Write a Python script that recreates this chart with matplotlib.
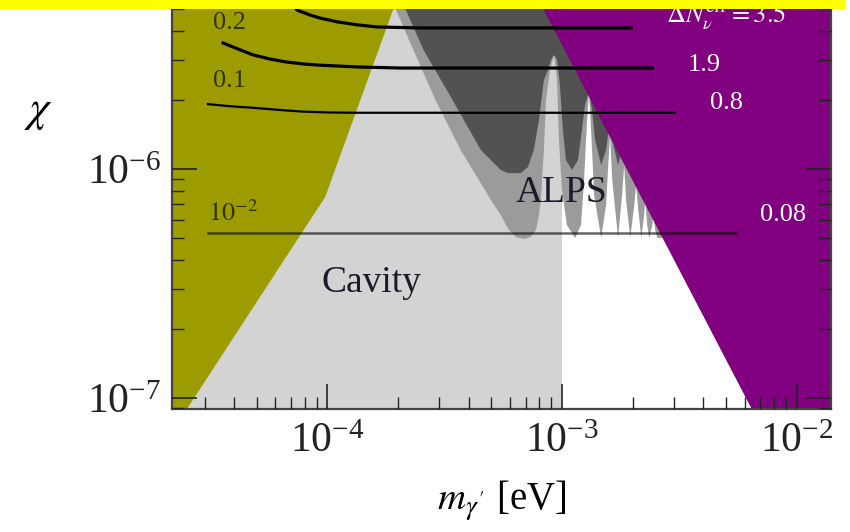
import numpy as np
import matplotlib
matplotlib.use("Agg")
import matplotlib.pyplot as plt
from matplotlib.patches import Rectangle

plt.rcParams['font.family'] = ['Liberation Serif', 'DejaVu Serif']
plt.rcParams['mathtext.fontset'] = 'stix'

# ---------------- data ----------------
xlim = (2.18e-5, 1.4e-2)
ylim = (8.95e-8, 5.47e-6)

# Olive exclusion region (left)
olive_m = [1e-5, 2.35e-5, 9.8e-5, 2.04e-4, 1e-5]
olive_chi = [8e-8, 8e-8, 7.55e-7, 6e-6, 6e-6]

# Cavity region (light grey), bounded by m = 1e-3 eV
cavity_m = [1e-5, 1e-3, 1e-3, 1e-5]
cavity_chi = [8e-8, 8e-8, 6e-6, 6e-6]

# Purple region (right)
purple_m = [5.85e-4, 6.81e-3, 2e-2, 2e-2]
purple_chi = [1e-5, 8e-8, 8e-8, 1e-5]

# ALPS outer sensitivity curve (medium grey), log10 values
alps_log_m = [-3.739, -3.709, -3.633, -3.539, -3.432, -3.303, -3.261, -3.227,
              -3.197, -3.162, -3.133, -3.111, -3.098, -3.090, -3.077, -3.068,
              -3.051, -3.034, -3.021, -3.013,
              -3.000, -2.979, -2.944, -2.919, -2.906, -2.893, -2.885, -2.876,
              -2.863, -2.833, -2.812, -2.803, -2.795, -2.786, -2.761, -2.744,
              -2.735, -2.727, -2.709, -2.692, -2.684, -2.675, -2.662, -2.650,
              -2.645, -2.637, -2.628, -2.615, -2.611, -2.603, -2.594, -2.406,
              -1.765]
alps_log_chi = [-5.210, -5.301, -5.480, -5.699, -5.917, -6.135, -6.201, -6.266,
                -6.297, -6.306, -6.297, -6.266, -6.201, -6.135, -5.917, -5.699,
                -5.568, -5.502, -5.611, -5.873,
                -6.092, -6.245, -6.301, -6.245, -6.048, -5.786, -5.668, -5.830,
                -6.114, -6.301, -6.157, -5.983, -5.852, -6.048, -6.301, -6.114,
                -5.983, -6.135, -6.301, -6.157, -6.070, -6.179, -6.301, -6.201,
                -6.135, -6.245, -6.301, -6.245, -6.201, -6.266, -6.301, -6.301,
                -6.301]

# ALPS inner curve (dark grey), log10 values
alps2_log_m = [-3.697, -3.667, -3.590, -3.466, -3.346, -3.303, -3.261, -3.231,
               -3.175, -3.145, -3.120, -3.098, -3.077, -3.060, -3.047, -3.034,
               -3.021, -3.009,
               -2.996, -2.983, -2.957, -2.932, -2.915, -2.902, -2.885, -2.872,
               -2.859, -2.833, -2.812, -2.799, -2.795, -2.786, -2.761, -2.744,
               -2.735, -2.705, -2.662, -1.765]
alps2_log_chi = [-5.210, -5.301, -5.480, -5.699, -5.917, -5.961, -6.004, -6.018,
                 -6.018, -5.991, -5.917, -5.786, -5.611, -5.568, -5.524, -5.502,
                 -5.524, -5.633,
                 -5.830, -5.961, -6.004, -5.961, -5.830, -5.721, -5.664, -5.742,
                 -5.873, -5.983, -5.917, -5.808, -5.764, -5.873, -5.983, -5.917,
                 -5.873, -5.983, -6.004, -6.004]

# Delta N_eff contour lines
line1_m = [6.8e-5, 7.44e-5, 8.46e-5, 9.33e-5, 1.104e-4, 1.343e-4, 1.637e-4,
           2.49e-4, 1.97e-3]
line1_chi = [5.6e-6, 4.94e-6, 4.70e-6, 4.56e-6, 4.39e-6, 4.26e-6, 4.17e-6,
             4.13e-6, 4.13e-6]
line2_m = [3.6e-5, 4.17e-5, 4.83e-5, 5.71e-5, 6.74e-5, 8.05e-5, 9.33e-5,
           1.343e-4, 2.05e-4, 2.43e-3]
line2_chi = [3.55e-6, 3.34e-6, 3.15e-6, 3.02e-6, 2.93e-6, 2.87e-6, 2.84e-6,
             2.79e-6, 2.76e-6, 2.76e-6]
line3_m = [3.1e-5, 3.85e-5, 4.83e-5, 6.3e-5, 7.9e-5, 1.03e-4, 1.343e-4, 3.01e-3]
line3_chi = [1.92e-6, 1.88e-6, 1.85e-6, 1.81e-6, 1.78e-6, 1.765e-6, 1.76e-6,
             1.76e-6]
line4_m = [3.1e-5, 5.54e-3]
line4_chi = [5.26e-7, 5.26e-7]

left_labels = ['0.2', '0.1', r'$10^{-2}$']
right_labels = [r'$\Delta N_\nu^{\rm eff} = 3.5$', '1.9', '0.8', '0.08']

# ---------------- figure ----------------
W, H = 850, 532
fig = plt.figure(figsize=(W / 100, H / 100), dpi=100)
ax = fig.add_axes([172 / W, 1 - 409 / H, (831 - 172) / W, 409 / H])
ax.set_xscale('log')
ax.set_yscale('log')

ax.fill(cavity_m, cavity_chi, color='#d3d3d3', lw=0, zorder=1.0)

am = 10 ** np.array(alps_log_m)
ac = 10 ** np.array(alps_log_chi)
ax.fill(np.concatenate([am, [am[-1], am[0]]]),
        np.concatenate([ac, [1e-5, 1e-5]]), color='#9b9b9b', lw=0, zorder=1.1)
bm = 10 ** np.array(alps2_log_m)
bc = 10 ** np.array(alps2_log_chi)
ax.fill(np.concatenate([bm, [bm[-1], bm[0]]]),
        np.concatenate([bc, [1e-5, 1e-5]]), color='#525252', lw=0, zorder=1.2)

ax.fill(olive_m, olive_chi, color='#9c9c00', lw=0, zorder=1.3)
ax.fill(purple_m, purple_chi, color='#800080', lw=0, zorder=1.4)

ax.plot(line1_m, line1_chi, color='black', lw=2.3, zorder=2, solid_joinstyle='round')
ax.plot(line2_m, line2_chi, color='black', lw=2.3, zorder=2, solid_joinstyle='round')
ax.plot(line3_m, line3_chi, color='black', lw=1.6, zorder=2, solid_joinstyle='round')
ax.plot(line4_m, line4_chi, color='black', lw=1.8, alpha=0.6, zorder=2)

tc = '#333300'
ax.text(3.26e-5, 4.34e-6, left_labels[0], color=tc, fontsize=19, ha='left', va='center')
ax.text(3.26e-5, 2.42e-6, left_labels[1], color=tc, fontsize=19, ha='left', va='center')
ax.text(3.1e-5, 6.43e-7, left_labels[2], color=tc, fontsize=19, ha='left', va='center')

ax.text(5.02e-3, 4.34e-6, right_labels[0], color='white', fontsize=19, ha='center', va='baseline')
ax.text(4.05e-3, 2.85e-6, right_labels[1], color='white', fontsize=19, ha='center', va='center')
ax.text(5.02e-3, 1.94e-6, right_labels[2], color='white', fontsize=19, ha='center', va='center')
ax.text(8.71e-3, 6.30e-7, right_labels[3], color='white', fontsize=19, ha='center', va='center')

ax.text(1.54e-4, 3.18e-7, 'Cavity', color='#1a1a2a', fontsize=27, ha='center', va='center')
ax.text(1.0e-3, 7.86e-7, 'ALPS', color='#1a1a2a', fontsize=27, ha='center', va='center')

ax.set_xlim(*xlim)
ax.set_ylim(*ylim)

ax.set_axisbelow(False)
ax.tick_params(which='both', direction='in', top=False, right=True,
               labelsize=30, colors='#222222')
ax.tick_params(which='major', length=18, width=1.2, pad=8)
ax.tick_params(which='minor', length=8.5, width=1.0)
ax.tick_params(axis='x', which='major', pad=10)
for s in ax.spines.values():
    s.set_linewidth(1.6)
    s.set_color('#444444')
ax.spines['top'].set_visible(False)

ax.set_xlabel(r"$m_{\gamma'}$ [eV]", fontsize=28, labelpad=12)
fig.text(38 / W, 1 - 112 / H, r'$\chi$', fontsize=32, ha='center', va='center')

fig.add_artist(Rectangle((0, 1 - 9 / H), 845 / W, 9 / H, transform=fig.transFigure,
                         color='#ffff00', zorder=10, lw=0))

fig.savefig('out.png', dpi=100)
